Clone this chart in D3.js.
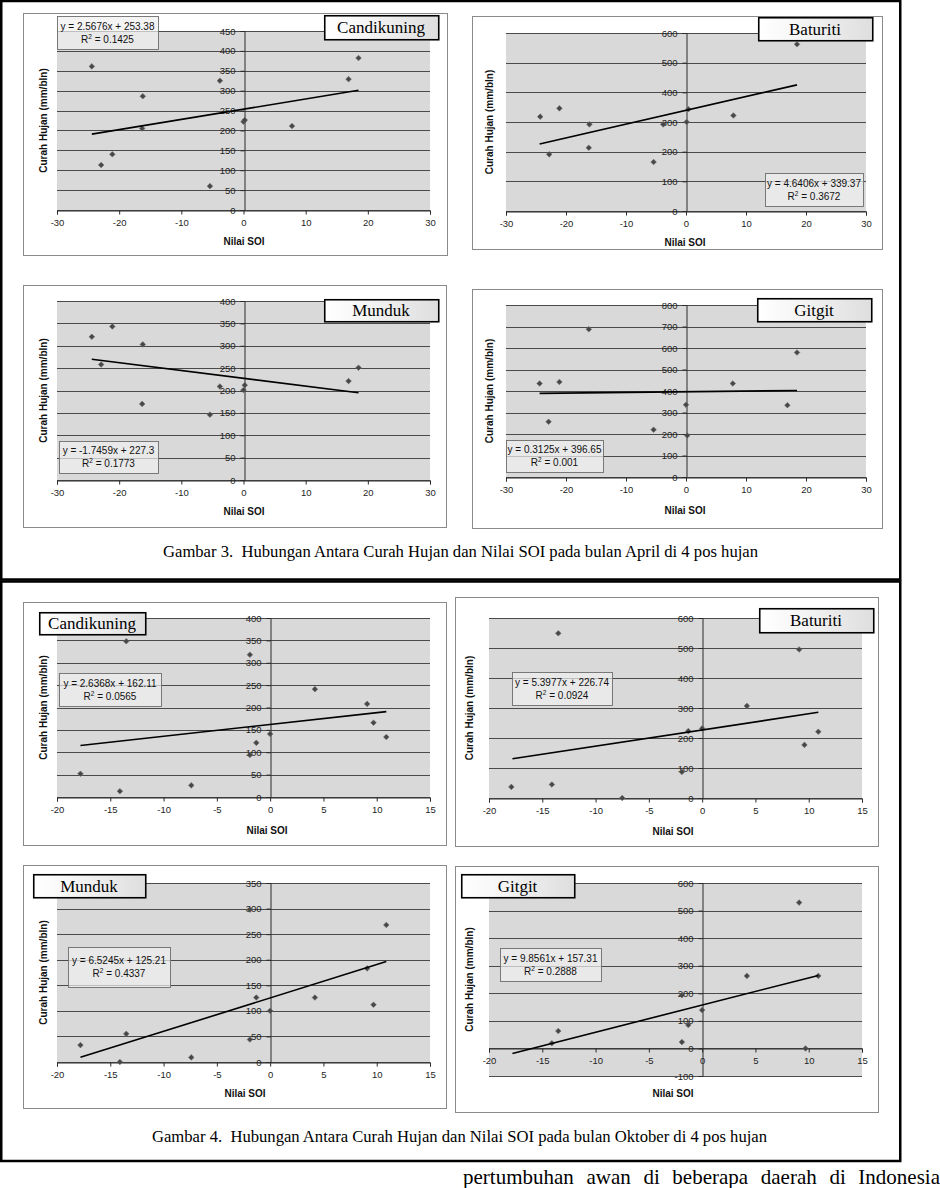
<!DOCTYPE html>
<html>
<head>
<meta charset="utf-8">
<script src="https://cdn.jsdelivr.net/npm/d3@7"></script>
<style>
  body { margin: 0; background: #ffffff; }
  svg { display: block; }
</style>
</head>
<body>
<svg id="chart" width="940" height="1188"></svg>
<script>
// ---------------- DATA ----------------
const stations = ["Candikuning", "Baturiti", "Munduk", "Gitgit"];
const xTitle = "Nilai SOI";
const yTitle = "Curah Hujan (mm/bln)";
const captionApril = "Gambar 3.  Hubungan Antara Curah Hujan dan Nilai SOI pada bulan April di 4 pos hujan";
const captionOktober = "Gambar 4.  Hubungan Antara Curah Hujan dan Nilai SOI pada bulan Oktober di 4 pos hujan";
const bodyText = "pertumbuhan awan di beberapa daerah di Indonesia";

const xTicksApril = [-30, -20, -10, 0, 10, 20, 30];
const xTicksOktober = [-20, -15, -10, -5, 0, 5, 10, 15];
const yTicks450 = [0, 50, 100, 150, 200, 250, 300, 350, 400, 450];
const yTicks400 = [0, 50, 100, 150, 200, 250, 300, 350, 400];
const yTicks350 = [0, 50, 100, 150, 200, 250, 300, 350];
const yTicks600 = [0, 100, 200, 300, 400, 500, 600];
const yTicks800 = [0, 100, 200, 300, 400, 500, 600, 700, 800];
const yTicksNeg600 = [-100, 0, 100, 200, 300, 400, 500, 600];

// April
const aprCandikuningSOI  = [-24.4, -22.9, -21.1, -16.2, -16.3, -5.4, -3.8, 0.0, 0.2, 7.8, 16.9, 18.5];
const aprCandikuningRain = [361, 113, 140, 286, 205, 60, 325, 222, 226, 211, 329, 382];
const aprBaturitiSOI     = [-24.3, -22.8, -21.1, -16.1, -16.2, -5.4, -3.8, 0.1, 0.4, 7.9, 18.5];
const aprBaturitiRain    = [318, 191, 346, 292, 213, 165, 292, 300, 343, 322, 562];
const aprMundukSOI       = [-24.4, -22.9, -21.1, -16.2, -16.3, -5.4, -3.8, 0.0, 0.2, 16.9, 18.5];
const aprMundukRain      = [320, 258, 343, 303, 170, 146, 209, 201, 212, 221, 251];
const aprGitgitSOI       = [-24.4, -22.9, -21.1, -16.2, -5.4, 0.0, 0.2, 7.8, 16.9, 18.5];
const aprGitgitRain      = [435, 257, 442, 687, 220, 336, 193, 435, 334, 579];

// Oktober
const oktCandikuningSOI  = [-17.8, -14.1, -13.5, -7.4, -1.9, -1.9, -1.3, 0.0, 4.2, 9.1, 9.7, 10.9];
const oktCandikuningRain = [52, 13, 348, 26, 318, 94, 121, 141, 241, 208, 166, 134];
const oktBaturitiSOI     = [-17.9, -14.1, -13.5, -7.5, -1.9, -1.3, 0.0, 4.2, 9.1, 9.6, 10.9];
const oktBaturitiRain    = [37, 45, 549, 0, 87, 223, 232, 307, 495, 177, 221];
const oktMundukSOI       = [-17.8, -14.1, -13.5, -7.4, -1.9, -1.9, -1.3, 0.0, 4.2, 9.1, 9.7, 10.9];
const oktMundukRain      = [33, 0, 55, 9, 298, 44, 126, 100, 126, 183, 112, 268];
const oktGitgitSOI       = [-14.1, -13.5, -1.9, -1.9, -1.3, 0.0, 4.2, 9.1, 9.7, 10.9];
const oktGitgitRain      = [19, 63, 193, 23, 85, 139, 263, 529, 0, 263];

// Linear trend equations (Candikuning, Baturiti, Munduk, Gitgit)
const aprSlope     = [2.5676, 4.6406, -1.7459, 0.3125];
const aprIntercept = [253.38, 339.37, 227.3, 396.65];
const aprR2        = ["0.1425", "0.3672", "0.1773", "0.001"];
const oktSlope     = [2.6368, 5.3977, 6.5245, 9.8561];
const oktIntercept = [162.11, 226.74, 125.21, 157.31];
const oktR2        = ["0.0565", "0.0924", "0.4337", "0.2888"];
const trendRangeApril   = [-24.4, 18.5];
const trendRangeOktober = [-17.8, 10.9];

// ---------------- LAYOUT ----------------
const panels = [
  { name: stations[0], xs: aprCandikuningSOI, ys: aprCandikuningRain, xTicks: xTicksApril, yTicks: yTicks450,
    m: aprSlope[0], b: aprIntercept[0], r2: aprR2[0], tr: trendRangeApril,
    border: [23, 13, 447, 255], plot: [57, 31, 430, 210], lab: [324, 15, 438, 39], eq: [57, 16, 158, 49],
    yTx: 43, xT: [244, 241] },
  { name: stations[1], xs: aprBaturitiSOI, ys: aprBaturitiRain, xTicks: xTicksApril, yTicks: yTicks600,
    m: aprSlope[1], b: aprIntercept[1], r2: aprR2[1], tr: trendRangeApril,
    border: [472, 16, 882, 249], plot: [506, 33, 866, 211], lab: [758, 17, 872, 40], eq: [765, 173, 863, 206],
    yTx: 489, xT: [685, 242] },
  { name: stations[2], xs: aprMundukSOI, ys: aprMundukRain, xTicks: xTicksApril, yTicks: yTicks400,
    m: aprSlope[2], b: aprIntercept[2], r2: aprR2[2], tr: trendRangeApril,
    border: [23, 285, 446, 527], plot: [57, 301, 430, 480], lab: [324, 299, 438, 321], eq: [59, 441, 158, 473],
    yTx: 43, xT: [244, 511] },
  { name: stations[3], xs: aprGitgitSOI, ys: aprGitgitRain, xTicks: xTicksApril, yTicks: yTicks800,
    m: aprSlope[3], b: aprIntercept[3], r2: aprR2[3], tr: trendRangeApril,
    border: [472, 289, 882, 528], plot: [506, 305, 866, 477], lab: [757, 298, 871, 321], eq: [506, 440, 603, 472],
    yTx: 489, xT: [685, 510] },
  { name: stations[0], xs: oktCandikuningSOI, ys: oktCandikuningRain, xTicks: xTicksOktober, yTicks: yTicks400,
    m: oktSlope[0], b: oktIntercept[0], r2: oktR2[0], tr: trendRangeOktober,
    border: [23, 602, 446, 845], plot: [57, 618, 430, 797], lab: [39, 612, 145, 634], eq: [59, 673, 161, 706],
    yTx: 43, xT: [267, 830] },
  { name: stations[1], xs: oktBaturitiSOI, ys: oktBaturitiRain, xTicks: xTicksOktober, yTicks: yTicks600,
    m: oktSlope[1], b: oktIntercept[1], r2: oktR2[1], tr: trendRangeOktober,
    border: [455, 597, 878, 846], plot: [489, 618, 862, 798], lab: [759, 608, 873, 632], eq: [512, 672, 612, 705],
    yTx: 469, xT: [673, 831] },
  { name: stations[2], xs: oktMundukSOI, ys: oktMundukRain, xTicks: xTicksOktober, yTicks: yTicks350,
    m: oktSlope[2], b: oktIntercept[2], r2: oktR2[2], tr: trendRangeOktober,
    border: [23, 865, 446, 1108], plot: [57, 883, 430, 1062], lab: [33, 874, 145, 897], eq: [68, 947, 170, 987],
    yTx: 43, xT: [245, 1093] },
  { name: stations[3], xs: oktGitgitSOI, ys: oktGitgitRain, xTicks: xTicksOktober, yTicks: yTicksNeg600,
    m: oktSlope[3], b: oktIntercept[3], r2: oktR2[3], tr: trendRangeOktober,
    border: [455, 866, 878, 1112], plot: [489, 883, 862, 1076], lab: [461, 874, 574, 897], eq: [500, 948, 601, 981],
    yTx: 469, xT: [673, 1093] }
];

const SANS = "'Liberation Sans', Arial, sans-serif";
const SERIF = "'Liberation Serif', 'Times New Roman', serif";

const svg = d3.select("#chart");
const defs = svg.append("defs");
const grad = defs.append("linearGradient").attr("id", "lblGrad")
  .attr("x1", "0").attr("x2", "1").attr("y1", "0").attr("y2", "0");
grad.append("stop").attr("offset", "0").attr("stop-color", "#ffffff");
grad.append("stop").attr("offset", "0.3").attr("stop-color", "#f7f7f7");
grad.append("stop").attr("offset", "1").attr("stop-color", "#dedede");

// outer frames
svg.append("rect").attr("x", 1.25).attr("y", 1).attr("width", 899).attr("height", 578.5)
  .attr("fill", "none").attr("stroke", "#000").attr("stroke-width", 2.5);
svg.append("rect").attr("x", 1.25).attr("y", 581.5).attr("width", 899).attr("height", 579.5)
  .attr("fill", "none").attr("stroke", "#000").attr("stroke-width", 2.5);

function drawPanel(p) {
  const g = svg.append("g");
  const [bx0, by0, bx1, by1] = p.border;
  const [px0, py0, px1, py1] = p.plot;

  g.append("rect").attr("x", bx0 + 0.5).attr("y", by0 + 0.5)
    .attr("width", bx1 - bx0).attr("height", by1 - by0)
    .attr("fill", "#ffffff").attr("stroke", "#8a8a8a").attr("stroke-width", 1);

  const x = d3.scaleLinear().domain([p.xTicks[0], p.xTicks[p.xTicks.length - 1]]).range([px0, px1]);
  const y = d3.scaleLinear().domain([p.yTicks[0], p.yTicks[p.yTicks.length - 1]]).range([py1, py0]);

  g.append("rect").attr("x", px0).attr("y", py0).attr("width", px1 - px0).attr("height", py1 - py0)
    .attr("fill", "#d9d9d9");

  // gridlines
  g.append("g").selectAll("line").data(p.yTicks).join("line")
    .attr("x1", px0).attr("x2", px1)
    .attr("y1", d => Math.round(y(d)) + 0.5).attr("y2", d => Math.round(y(d)) + 0.5)
    .attr("stroke", "#3a3a3a").attr("stroke-width", 0.9);

  // x axis at y = 0
  const xAxis = g.append("g").attr("transform", `translate(0,${Math.round(y(0)) + 0.5})`)
    .call(d3.axisBottom(x).tickValues(p.xTicks).tickSize(4).tickPadding(5).tickFormat(d3.format("d")));
  // y axis at x = 0
  const yAxis = g.append("g").attr("transform", `translate(${Math.round(x(0)) + 0.5},0)`)
    .call(d3.axisLeft(y).tickValues(p.yTicks).tickSize(4).tickPadding(5).tickFormat(d3.format("d")));
  [xAxis, yAxis].forEach(a => {
    a.select(".domain").attr("stroke", "#2a2a2a").attr("stroke-width", 1);
    a.selectAll(".tick line").attr("stroke", "#2a2a2a");
    a.selectAll(".tick text").attr("font-family", SANS).attr("font-size", 9.5).attr("fill", "#1e1e1e");
  });
  xAxis.selectAll(".tick text").text(d => d < 0 ? "-" + Math.abs(d) : String(d));
  yAxis.selectAll(".tick text").text(d => d < 0 ? "-" + Math.abs(d) : String(d));

  // points
  const pts = p.xs.map((v, i) => [v, p.ys[i]]);
  const r = 2.8;
  g.append("g").selectAll("path").data(pts).join("path")
    .attr("transform", d => `translate(${x(d[0])},${y(d[1])})`)
    .attr("d", `M0,${-r}L${r},0L0,${r}L${-r},0Z`)
    .attr("fill", "#474747").attr("stroke", "#6a6a6a").attr("stroke-width", 0.6);

  // trend line
  g.append("line")
    .attr("x1", x(p.tr[0])).attr("y1", y(p.m * p.tr[0] + p.b))
    .attr("x2", x(p.tr[1])).attr("y2", y(p.m * p.tr[1] + p.b))
    .attr("stroke", "#000").attr("stroke-width", 1.6);

  // equation box
  const [ex0, ey0, ex1, ey1] = p.eq;
  g.append("rect").attr("x", ex0 + 0.5).attr("y", ey0 + 0.5).attr("width", ex1 - ex0).attr("height", ey1 - ey0)
    .attr("fill", "#f0f0f0").attr("fill-opacity", 0.7).attr("stroke", "#6e6e6e").attr("stroke-width", 0.9);
  const ecx = (ex0 + ex1) / 2, ecy = (ey0 + ey1) / 2;
  g.append("text").attr("x", ecx).attr("y", ecy - 3)
    .attr("text-anchor", "middle").attr("font-family", SANS).attr("font-size", 10).attr("fill", "#111")
    .text(`y = ${p.m}x + ${p.b}`);
  const t2 = g.append("text").attr("x", ecx).attr("y", ecy + 10)
    .attr("text-anchor", "middle").attr("font-family", SANS).attr("font-size", 10).attr("fill", "#111");
  t2.append("tspan").text("R");
  t2.append("tspan").attr("font-size", 6.5).attr("dy", -4).text("2");
  t2.append("tspan").attr("dy", 4).text(` = ${p.r2}`);

  // station label box
  const [lx0, ly0, lx1, ly1] = p.lab;
  g.append("rect").attr("x", lx0 + 0.75).attr("y", ly0 + 0.75).attr("width", lx1 - lx0).attr("height", ly1 - ly0)
    .attr("fill", "url(#lblGrad)").attr("stroke", "#000").attr("stroke-width", 1.6);
  g.append("text").attr("x", (lx0 + lx1) / 2).attr("y", (ly0 + ly1) / 2 + 6)
    .attr("text-anchor", "middle").attr("font-family", SERIF).attr("font-size", 17).attr("fill", "#000")
    .text(p.name);

  // axis titles
  g.append("text").attr("transform", `translate(${p.yTx},${(py0 + py1) / 2}) rotate(-90)`)
    .attr("text-anchor", "middle").attr("dy", "0.35em")
    .attr("font-family", SANS).attr("font-weight", "bold").attr("font-size", 10).attr("fill", "#111")
    .text(yTitle);
  g.append("text").attr("x", p.xT[0]).attr("y", p.xT[1]).attr("dy", "0.35em")
    .attr("text-anchor", "middle")
    .attr("font-family", SANS).attr("font-weight", "bold").attr("font-size", 10).attr("fill", "#111")
    .text(xTitle);
}

panels.forEach(drawPanel);

// captions
function caption(txt, x0, x1, baseline, size) {
  svg.append("text").attr("x", x0).attr("y", baseline)
    .attr("font-family", SERIF).attr("font-size", size).attr("fill", "#000")
    .style("white-space", "pre")
    .attr("textLength", x1 - x0).attr("lengthAdjust", "spacingAndGlyphs")
    .text(txt);
}
caption(captionApril, 163, 758, 557, 16);
caption(captionOktober, 152, 767, 1142, 16);

// justified body text line
const bt = svg.append("text").attr("x", 463).attr("y", 1184)
  .attr("font-family", SERIF).attr("font-size", 21).attr("fill", "#000")
  .text(bodyText);
const natural = bt.node().getComputedTextLength();
const gaps = bodyText.split(" ").length - 1;
bt.attr("word-spacing", Math.max(0, (940 - 463 - natural) / gaps));
</script>
</body>
</html>
